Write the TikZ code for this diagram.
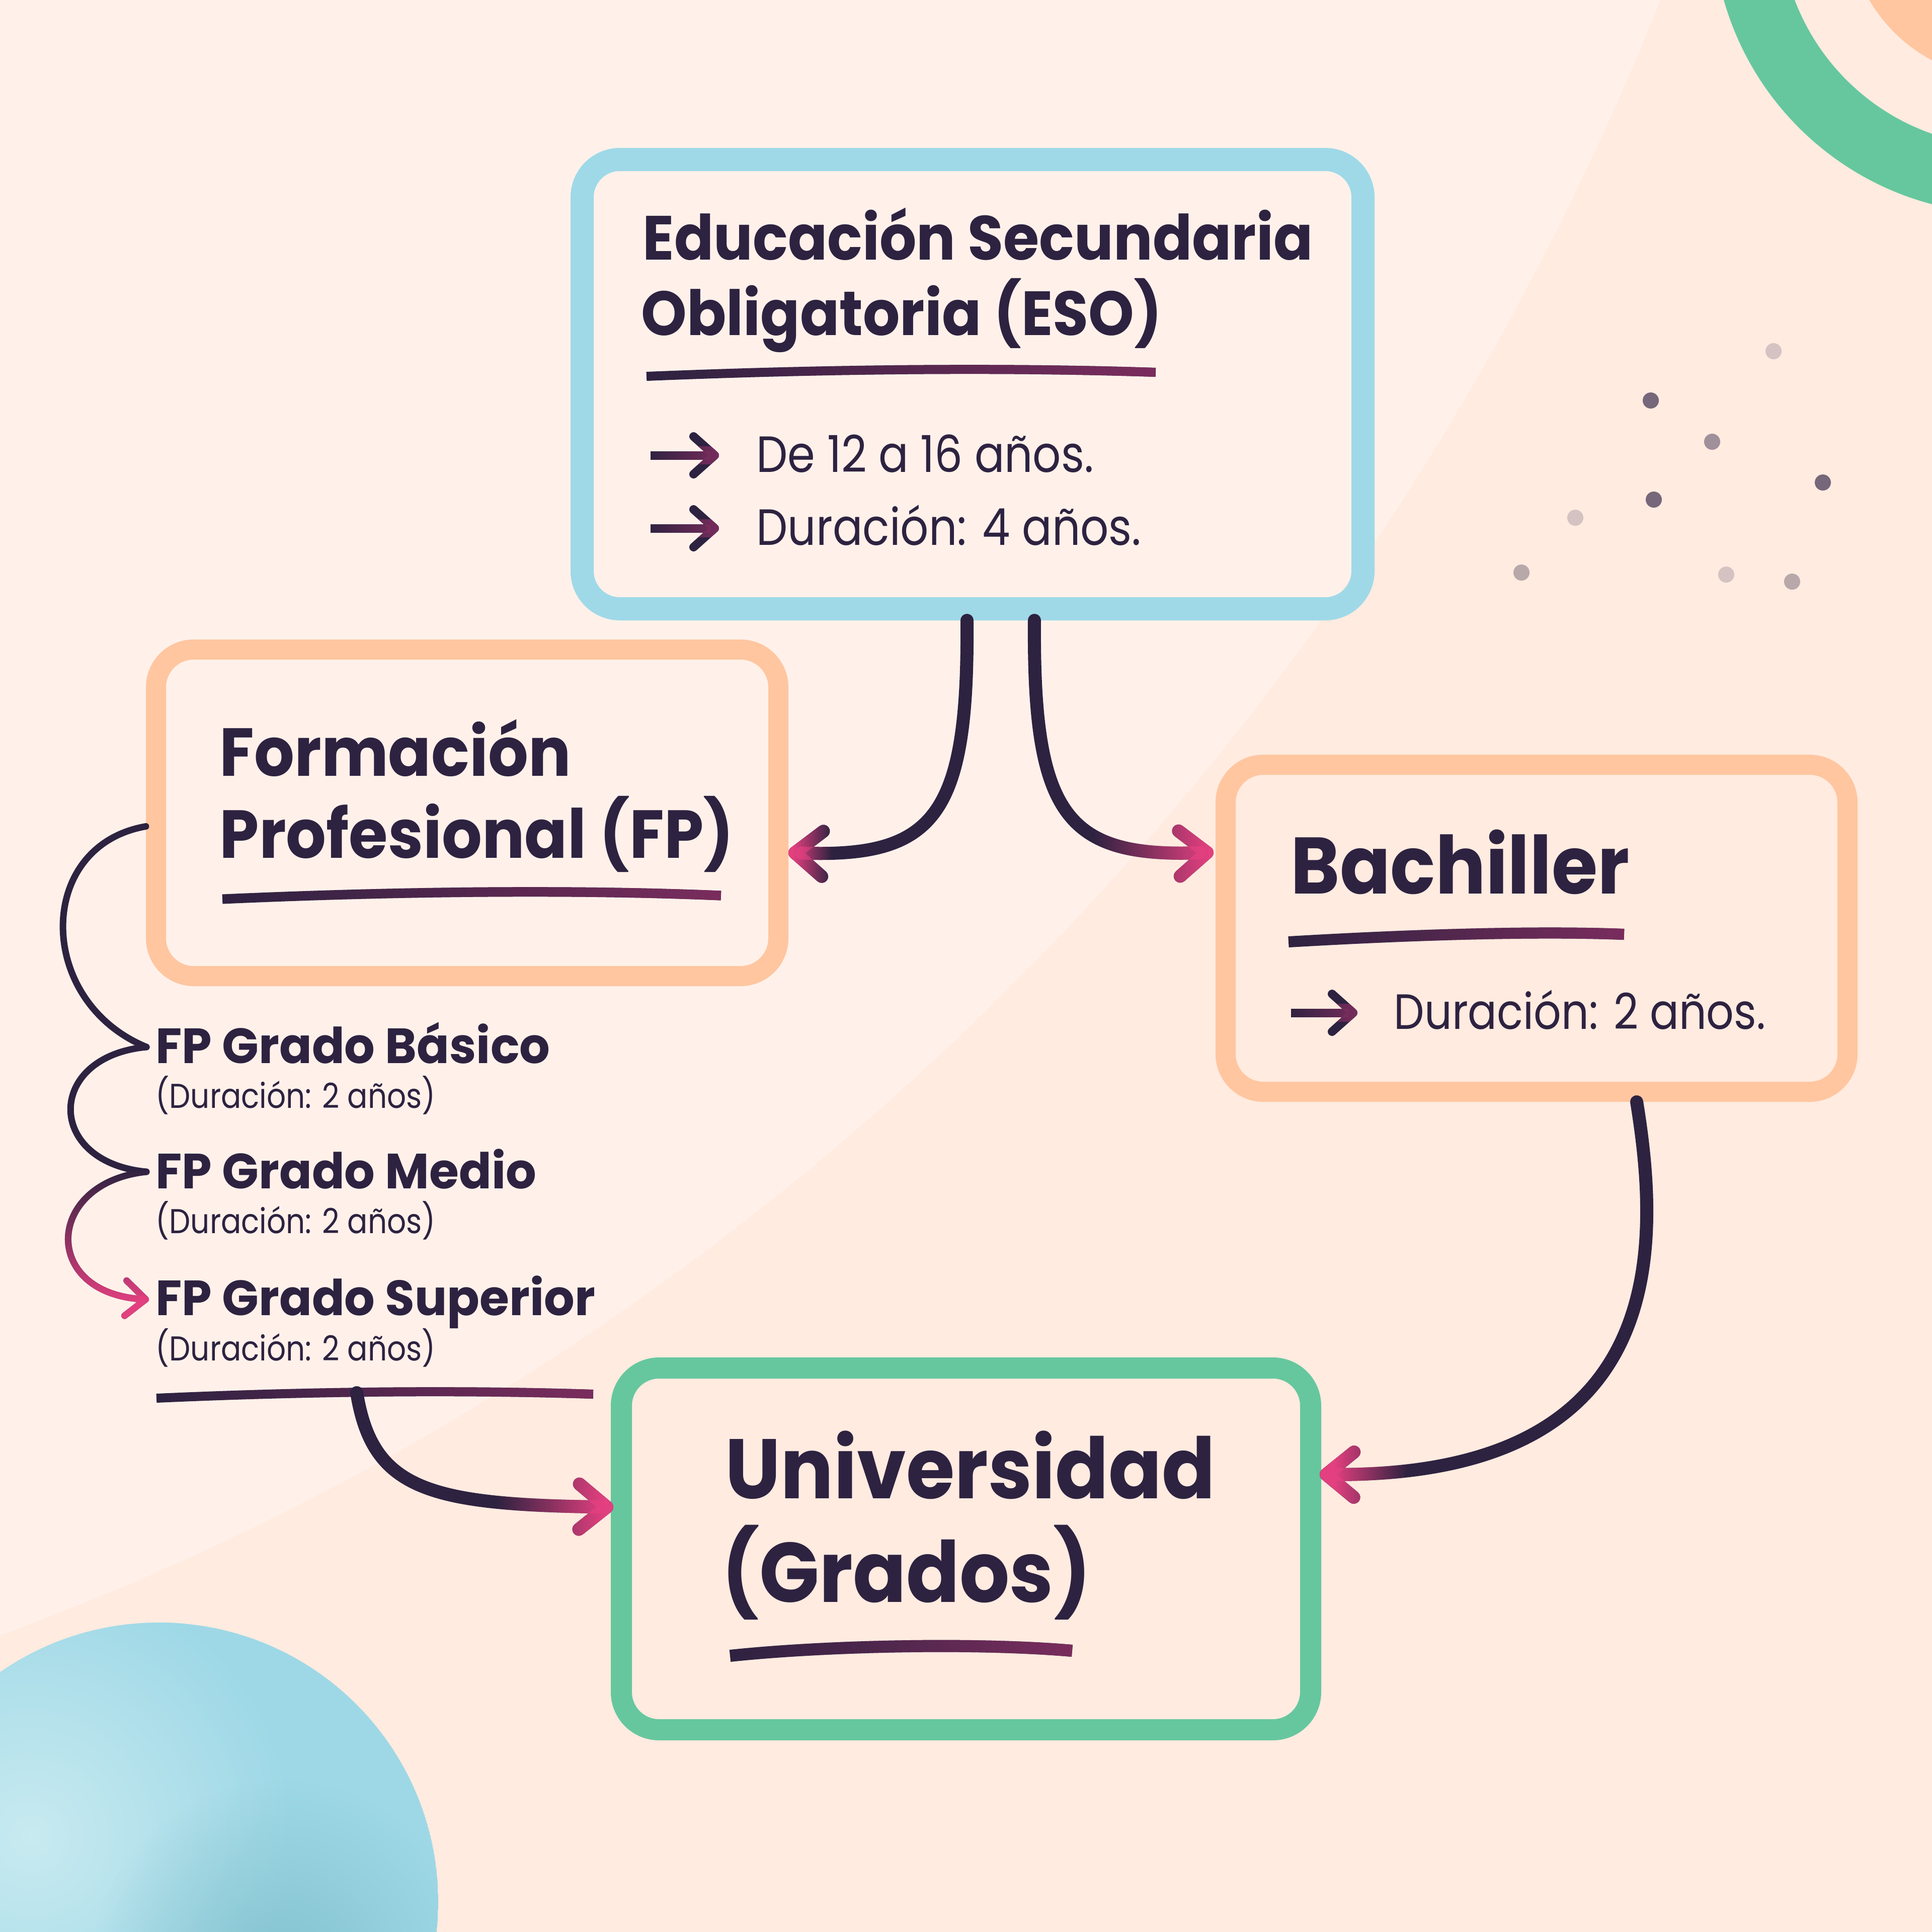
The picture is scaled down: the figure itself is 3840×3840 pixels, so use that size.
\documentclass[tikz,border=0pt]{standalone}
\usepackage{fontspec}
\setmainfont{Poppins}[FakeStretch=0.87]
\newfontfamily\headfont{Poppins}[FakeStretch=0.93]
\newfontfamily\gradofont{Poppins}[FakeStretch=0.97]
\usepackage{xcolor}
\usetikzlibrary{positioning,arrows.meta,calc,fadings}

\definecolor{ink}{HTML}{2D2240}
\definecolor{plum}{HTML}{7B2D5E}
\definecolor{rose}{HTML}{E2407F}
\definecolor{esoblue}{HTML}{9FD9E8}
\definecolor{fporange}{HTML}{FFC6A0}
\definecolor{unigreen}{HTML}{66C79E}
\definecolor{bgpeach}{HTML}{FFEBE0}
\definecolor{bglight}{HTML}{FFF1EA}
\definecolor{sphblue}{HTML}{9ED8E6}
\definecolor{sphlight}{HTML}{C8EAF0}
\definecolor{sphdark}{HTML}{84C3CF}
\definecolor{dotdark}{HTML}{76677A}
\definecolor{dotmid}{HTML}{A0909A}
\definecolor{dotsoft}{HTML}{B8A8AA}
\definecolor{dotlight}{HTML}{D5C3C3}

% fadings: the path box is mapped on -25bp..25bp
\begin{tikzfadingfrompicture}[name=fadeeast]
\fill[black] (-50bp,-50bp) rectangle (50bp,50bp);
\fill[white] (25bp,-50bp) rectangle (50bp,50bp);
\shade[left color=black,right color=white] (-25bp,-50bp) rectangle (25bp,50bp);
\end{tikzfadingfrompicture}
\begin{tikzfadingfrompicture}[name=tipwest]
\fill[black] (-50bp,-50bp) rectangle (50bp,50bp);
\fill[white] (-50bp,-50bp) rectangle (-22bp,50bp);
\shade[left color=white,right color=black] (-22bp,-50bp) rectangle (-12bp,50bp);
\end{tikzfadingfrompicture}
\begin{tikzfadingfrompicture}[name=tipeast]
\fill[black] (-50bp,-50bp) rectangle (50bp,50bp);
\fill[white] (22bp,-50bp) rectangle (50bp,50bp);
\shade[left color=black,right color=white] (2bp,-50bp) rectangle (22bp,50bp);
\end{tikzfadingfrompicture}
\begin{tikzfadingfrompicture}[name=tipeastwide]
\fill[black] (-50bp,-50bp) rectangle (50bp,50bp);
\fill[white] (22bp,-50bp) rectangle (50bp,50bp);
\shade[left color=black,right color=white] (-8bp,-50bp) rectangle (22bp,50bp);
\end{tikzfadingfrompicture}
\begin{tikzfadingfrompicture}[name=fadesouth]
\fill[white] (-50bp,-50bp) rectangle (50bp,50bp);
\fill[black] (-50bp,25bp) rectangle (50bp,50bp);
\shade[top color=black,bottom color=white] (-50bp,-25bp) rectangle (50bp,25bp);
\end{tikzfadingfrompicture}
\tikzfading[name=glow, inner color=transparent!0, outer color=transparent!100]

\tikzset{
  heading/.style={font=\headfont\bfseries\fontsize{#1}{#1}\selectfont, text=ink, inner sep=0pt, anchor=base west},
  grado/.style={font=\gradofont\bfseries\fontsize{#1}{#1}\selectfont, text=ink, inner sep=0pt, anchor=base west},
  bodytext/.style={font=\fontsize{#1}{#1}\selectfont, text=ink, inner sep=0pt, anchor=base west},
  box/.style={draw=#1, rounded corners=7.5mm, inner sep=0pt},
  underline/.style={line width=#1, ink, postaction={draw=plum, path fading=fadeeast}},
  link/.style={line width=2.6mm, ink, line cap=round, -{Straight Barb[length=5.5mm,width=9mm,round]}},
  brace/.style={line width=1.3mm, ink, line cap=round},
  bullet/.style={line width=1.7mm, ink, -{Straight Barb[length=4.2mm,width=7.5mm,round]},
    postaction={draw=plum, path fading=fadeeast}}
}

\begin{document}
\begin{tikzpicture}[x=0.1mm,y=-0.1mm]
\useasboundingbox (0,0) rectangle (3840,3840);
\clip (0,0) rectangle (3840,3840);
% background
\fill[bgpeach] (0,0) rectangle (3840,3840);
\fill[bglight] (0,0) -- (3300,0) .. controls (2700,1500) and (1500,2700) .. (0,3250) -- cycle;
\fill[unigreen] (3989,-160) circle (585);
\fill[bgpeach] (3989,-160) circle (451);
\fill[fporange] (3989,-160) circle (317);
\begin{scope}
\clip (316,3780) circle (555);
\fill[sphblue] (316,3780) circle (555);
\shade[inner color=sphlight, outer color=sphblue] (60,3650) circle (520);
\fill[sphdark, path fading=glow] (560,3920) circle (380);
\end{scope}
\foreach \x/\y/\c in {3525/698/dotlight, 3281/796/dotdark, 3403/878/dotmid,
  3623/959/dotdark, 3287/993/dotdark, 3131/1029/dotlight, 3024/1138/dotsoft,
  3431/1142/dotlight, 3562/1156/dotsoft}
  \fill[\c] (\x,\y) circle (16);

% boxes
\node[box=esoblue, line width=4.6mm, minimum width=155.2mm, minimum height=89.3mm] (eso) at (1933,763.5) {};
\node[box=fporange, line width=4mm, minimum width=123.7mm, minimum height=64.9mm] (fp) at (928.5,1615.5) {};
\node[box=fporange, line width=4mm, minimum width=123.6mm, minimum height=65mm] (bach) at (3054,1845) {};
\node[box=unigreen, line width=4.2mm, minimum width=137mm, minimum height=71.9mm] (uni) at (1920,3078.5) {};

% ESO
\node[heading=35.3pt] (eso1) at (1277,516) {Educación Secundaria};
\node[heading=35.3pt] (eso2) at (1274,666) {Obligatoria (ESO)};
\draw[underline=1.8mm] (1285,748) .. controls (1650,733) and (2000,730) .. (2297,740);
\node[bodytext=28.8pt] (eso3) at (1503,938) {De 12 a 16 años.};
\node[bodytext=28.8pt] (eso4) at (1503,1083) {Duración: 4 años.};
\draw[bullet] ($(eso3.base west)+(-210,-33)$) -- +(136,0);
\draw[bullet] ($(eso4.base west)+(-210,-33)$) -- +(136,0);

% FP
\node[heading=38.4pt] (fp1) at (436,1542) {Formación};
\node[heading=38.4pt] (fp2) at (436,1705) {Profesional (FP)};
\draw[underline=1.9mm] (442,1787) .. controls (800,1771) and (1150,1768) .. (1433,1780);
\node[grado=28pt] (gb) at (309,2113) {FP Grado Básico};
\node[bodytext=19.5pt] (gbd) at (309,2202) {(Duración: 2 años)};
\node[grado=28pt] (gm) at (309,2362) {FP Grado Medio};
\node[bodytext=19.5pt] (gmd) at (309,2451) {(Duración: 2 años)};
\node[grado=28pt] (gs) at (309,2614) {FP Grado Superior};
\node[bodytext=19.5pt] (gsd) at (309,2704) {(Duración: 2 años)};
\draw[underline=1.8mm] (311,2779) .. controls (600,2766) and (900,2762) .. (1179,2771);
\coordinate (fpline) at (709,2768);

% Bachiller
\node[heading=45.3pt] (bach1) at (2565,1776) {Bachiller};
\draw[underline=2.2mm] (2561,1872) .. controls (2800,1858) and (3050,1850) .. (3228,1857);
\node[bodytext=28pt] (bach2) at (2770,2045) {Duración: 2 años.};
\draw[bullet] ($(bach2.base west)+(-204,-32)$) -- +(132,0);

% Universidad
\node[heading=47.8pt] (uni1) at (1441,2978) {Universidad};
\node[heading=47.8pt] (uni2) at (1434,3184) {(Grados)};
\draw[underline=2.4mm] (1451,3291) .. controls (1650,3270) and (1950,3265) .. (2131,3281);

% connectors
\draw[link, postaction={draw=rose, path fading=tipwest}]
  ($(eso.south)+(-11,0)$) .. controls +(3,386) and +(293,11) .. ($(fp.east)+(0,79)$);
\draw[link, postaction={draw=rose, path fading=tipeastwide}]
  ($(eso.south)+(123,0)$) .. controls +(-3,386) and +(-294,11) .. ($(bach.west)+(-4,-151)$);
\draw[link, postaction={draw=rose, path fading=tipwest}]
  ($(bach.south)+(199,0)$) .. controls +(47,290) and +(697,5) .. ($(uni.east)+(-3,-148)$);
\draw[link, postaction={draw=rose, path fading=tipeast}]
  (fpline) .. controls +(31,192) and +(-369,-5) .. ($(uni.west)+(5,-83)$);

% FP levels
\draw[brace] ($(fp.west)+(0,27)$) .. controls +(-220,38) and +(-221,-91) .. ($(gb.base west)+(-18,-32)$);
\draw[brace] ($(gb.base west)+(-18,-32)$) .. controls +(-201,19) and +(-201,-19) .. ($(gm.base west)+(-18,-33)$);
\draw[brace, -{Straight Barb[length=4mm,width=7mm,round]}, postaction={draw=rose, path fading=fadesouth}]
  ($(gm.base west)+(-18,-33)$) .. controls +(-201,21) and +(-216,-13) .. ($(gs.base west)+(-13,-31)$);
\end{tikzpicture}
\end{document}
